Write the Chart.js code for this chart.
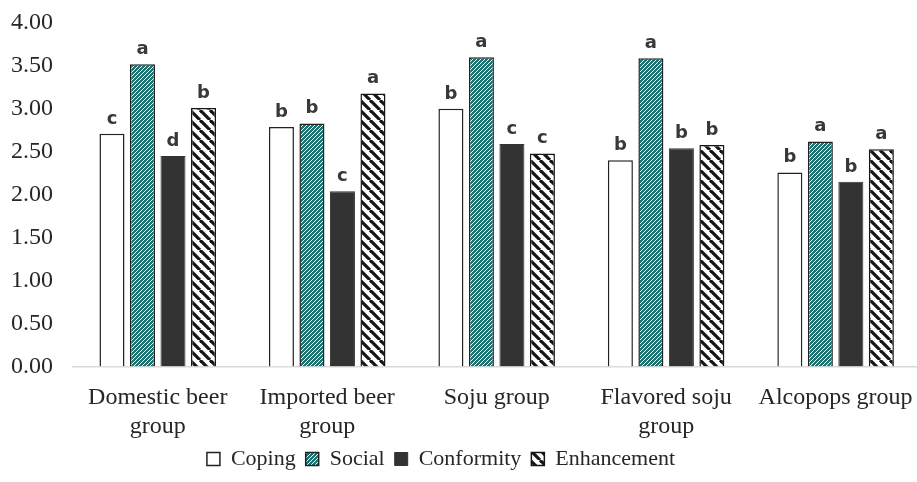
<!DOCTYPE html>
<html lang="en">
<head>
    <meta charset="UTF-8">
    <title>Drinking motives by group</title>
    <script src="https://cdn.jsdelivr.net/npm/chart.js"></script>
    <style>
        html, body { margin: 0; padding: 0; background: #fff; overflow: hidden; }
        #wrap { width: 930px; height: 482px; }
    </style>
</head>
<body>
    <div id="wrap"><canvas id="myChart"></canvas></div>

    <script>
        // data
        const groups = [
            ['Domestic beer', 'group'],
            ['Imported beer', 'group'],
            'Soju group',
            ['Flavored soju', 'group'],
            'Alcopops group'
        ];
        const seriesNames = ['Coping', 'Social', 'Conformity', 'Enhancement'];
        const coping      = [2.71, 2.79, 3.00, 2.40, 2.26];
        const social      = [3.52, 2.83, 3.60, 3.59, 2.62];
        const conformity  = [2.45, 2.04, 2.59, 2.54, 2.15];
        const enhancement = [3.01, 3.18, 2.48, 2.58, 2.53];
        // significance letters above each bar
        const copingLetters      = ['c', 'b', 'b', 'b', 'b'];
        const socialLetters      = ['a', 'b', 'a', 'a', 'a'];
        const conformityLetters  = ['d', 'c', 'c', 'b', 'b'];
        const enhancementLetters = ['b', 'a', 'c', 'b', 'a'];
        const yTicks = [0, 0.5, 1, 1.5, 2, 2.5, 3, 3.5, 4];

        // hatch patterns
        function makeSocialPattern() {
            const c = document.createElement('canvas');
            c.width = 4; c.height = 4;
            const g = c.getContext('2d');
            g.fillStyle = '#1b7471';
            g.fillRect(0, 0, 4, 4);
            g.strokeStyle = '#ffffff';
            g.lineWidth = 1;
            for (let k = -4; k <= 4; k += 4) {
                g.beginPath();
                g.moveTo(k, 4);
                g.lineTo(k + 4, 0);
                g.stroke();
            }
            return g.createPattern(c, 'repeat');
        }

        function makeEnhPattern() {
            const c = document.createElement('canvas');
            c.width = 10; c.height = 10;
            const g = c.getContext('2d');
            g.fillStyle = '#ffffff';
            g.fillRect(0, 0, 10, 10);
            g.strokeStyle = '#161616';
            g.lineWidth = 3.2;
            for (let k = -10; k <= 10; k += 10) {
                g.beginPath();
                g.moveTo(k, 0);
                g.lineTo(k + 10, 10);
                g.stroke();
            }
            return g.createPattern(c, 'repeat');
        }

        const socialFill = makeSocialPattern();
        const enhFill = makeEnhPattern();

        // writes the letters just above each bar
        const letterPlugin = {
            id: 'letters',
            afterDatasetsDraw(chart) {
                const ctx = chart.ctx;
                ctx.save();
                ctx.font = 'bold 18px "DejaVu Sans", Verdana, sans-serif';
                ctx.fillStyle = '#383838';
                ctx.textAlign = 'center';
                ctx.textBaseline = 'alphabetic';
                chart.data.datasets.forEach((ds, i) => {
                    const meta = chart.getDatasetMeta(i);
                    meta.data.forEach((bar, j) => {
                        ctx.fillText(ds.letters[j], bar.x, bar.y - 10);
                    });
                });
                ctx.restore();
            }
        };

        // legend sits a little left of centre in the original
        const legendShift = {
            id: 'legendShift',
            afterLayout(chart) {
                chart.legend.left -= 22;
                chart.legend.right -= 22;
            }
        };

        const serif = '"Liberation Serif", "Times New Roman", serif';

        const ctx = document.getElementById('myChart').getContext('2d');
        const chartInstance = new Chart(ctx, {
            type: 'bar',
            data: {
                labels: groups,
                datasets: [
                    {
                        label: seriesNames[0],
                        data: coping,
                        letters: copingLetters,
                        backgroundColor: '#ffffff',
                        borderColor: '#222222',
                        borderWidth: 1.5
                    },
                    {
                        label: seriesNames[1],
                        data: social,
                        letters: socialLetters,
                        backgroundColor: socialFill,
                        borderColor: '#222222',
                        borderWidth: 1.5
                    },
                    {
                        label: seriesNames[2],
                        data: conformity,
                        letters: conformityLetters,
                        backgroundColor: '#333333',
                        borderColor: '#333333',
                        borderWidth: 1
                    },
                    {
                        label: seriesNames[3],
                        data: enhancement,
                        letters: enhancementLetters,
                        backgroundColor: enhFill,
                        borderColor: '#161616',
                        borderWidth: 1.5
                    }
                ]
            },
            options: {
                responsive: true,
                maintainAspectRatio: false,
                animation: false,
                categoryPercentage: 0.72,
                barPercentage: 0.82,
                layout: { padding: { left: 0, right: 4, top: 0, bottom: 2 } },
                plugins: {
                    legend: {
                        position: 'bottom',
                        labels: {
                            font: { family: serif, size: 22 },
                            color: '#262626',
                            boxWidth: 13,
                            boxHeight: 13,
                            padding: 10
                        }
                    },
                    tooltip: { enabled: false }
                },
                scales: {
                    x: {
                        grid: { display: false, drawTicks: false },
                        border: { display: true, color: '#d9d9d9', width: 1.5 },
                        afterFit(axis) {
                            axis.height -= 20;
                        },
                        ticks: {
                            font: { family: serif, size: 24 },
                            color: '#262626',
                            padding: 17,
                            maxRotation: 0,
                            autoSkip: false
                        }
                    },
                    y: {
                        min: 0,
                        max: 4,
                        afterBuildTicks(axis) {
                            axis.ticks = yTicks.map(v => ({ value: v }));
                        },
                        afterFit(axis) {
                            axis.width = 73;
                            axis.paddingTop = 23;
                            axis.paddingBottom = 0;
                        },
                        grid: { display: false, drawTicks: false },
                        border: { display: false },
                        ticks: {
                            font: { family: serif, size: 24 },
                            color: '#262626',
                            padding: 20,
                            callback: v => Number(v).toFixed(2)
                        }
                    }
                }
            },
            plugins: [letterPlugin, legendShift]
        });
    </script>
</body>
</html>
